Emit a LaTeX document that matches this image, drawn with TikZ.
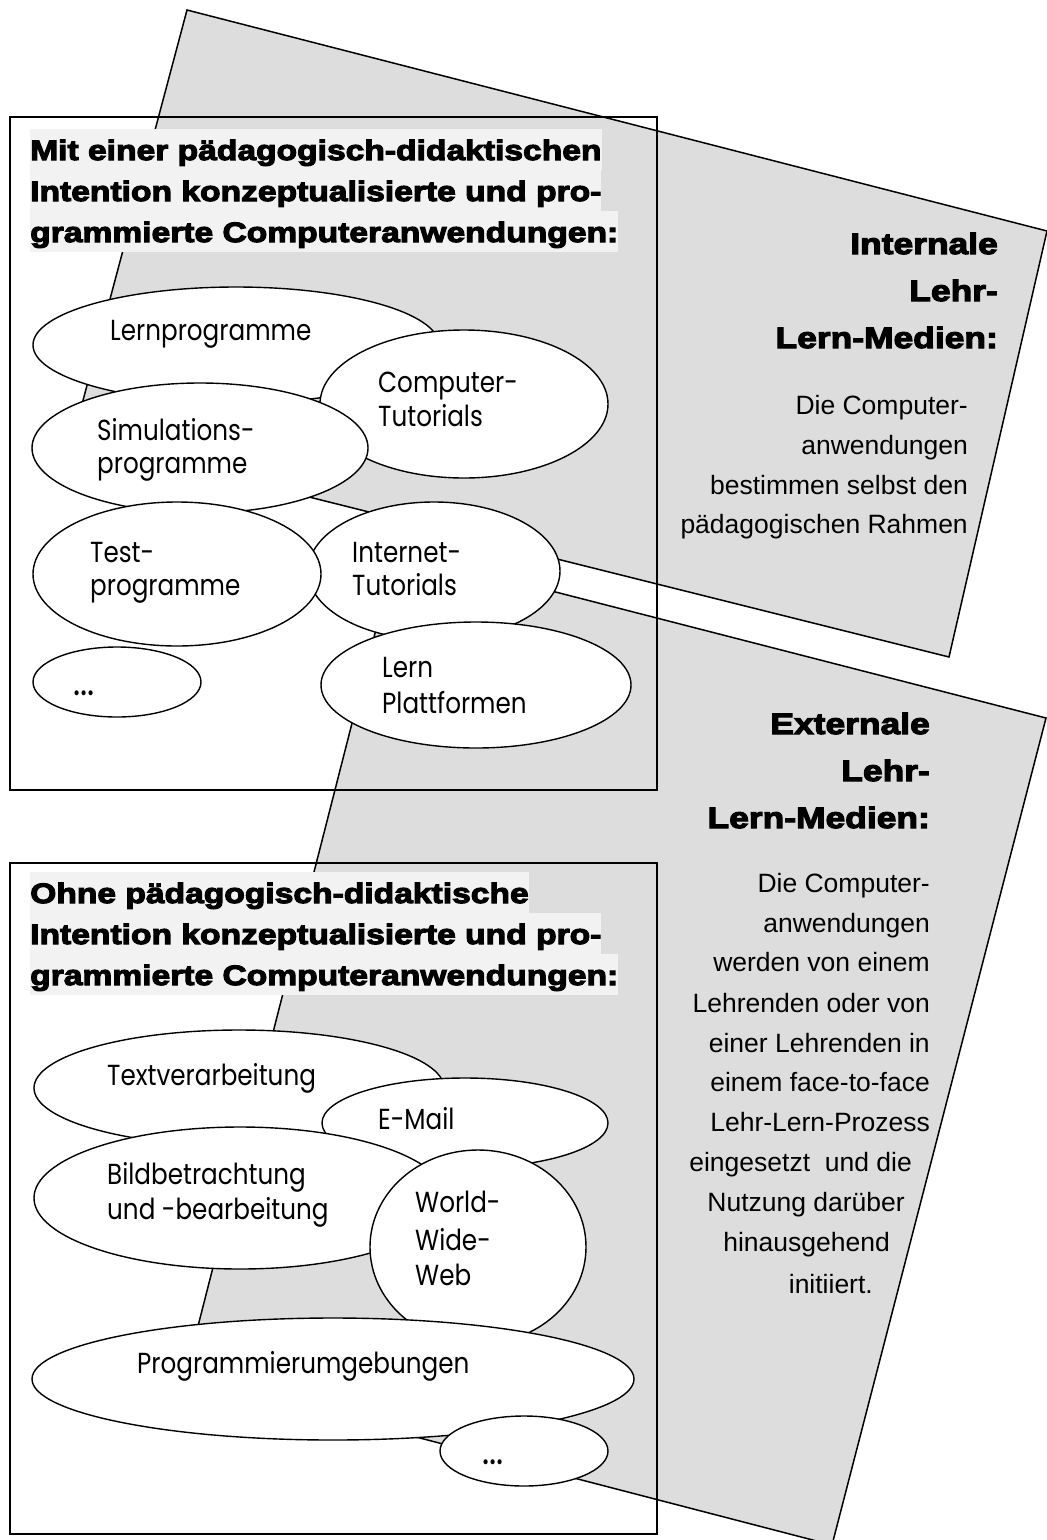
\documentclass[tikz,border=0pt]{standalone}
\usepackage{fontspec}
\usetikzlibrary{shapes.geometric}
\setmainfont{Liberation Sans}
\newfontfamily\heavy[FakeBold=4,FakeStretch=1.2]{Liberation Sans Bold}
\newfontfamily\geo[FakeStretch=0.85]{Poppins}
\definecolor{polygray}{HTML}{DDDDDD}
\definecolor{hl}{HTML}{F2F2F2}
\tikzset{
  poly/.style={fill=polygray, draw=black, line width=1.5},
  frame/.style={draw=black, line width=2},
  ov/.style={ellipse, draw=black, fill=white, line width=1.4, inner sep=0pt},
  gtext/.style={font=\geo\fontsize{29}{34}\selectfont, inner sep=0pt, anchor=base west},
  dots/.style={font=\geo\fontsize{40}{40}\selectfont, inner sep=0pt, anchor=base west},
  ttl/.style={font=\heavy\fontsize{28}{41}\selectfont, fill=hl, inner xsep=0pt, inner ysep=0pt, text height=31, text depth=10, anchor=base west},
  head/.style={font=\heavy\fontsize{29.5}{47}\selectfont, inner sep=0pt, anchor=base east},
  body/.style={font=\fontsize{26.5}{40}\selectfont, inner sep=0pt, anchor=base east},
}
\begin{document}
\begin{tikzpicture}[x=1pt,y=-1pt]
\useasboundingbox (0,0) rectangle (1047,1540);
% grey panels
\coordinate (pa1) at (187,10);
\coordinate (pa2) at (1047,231);
\coordinate (pa3) at (949,657);
\coordinate (pa4) at (73,438);
\coordinate (pb1) at (396,551);
\coordinate (pb2) at (1046,718);
\coordinate (pb3) at (832,1545);
\coordinate (pb4) at (185,1377);
\draw[poly] (pa1) -- (pa2) -- (pa3) -- (pa4) -- cycle;
\draw[poly] (pb1) -- (pb2) -- (pb3) -- (pb4) -- cycle;
% frames
\draw[frame] (10,117) rectangle (657,790);
\draw[frame] (10,863) rectangle (657,1534);
% upper title
\node[ttl] (ut1) at (30,160) {Mit einer pädagogisch-didaktischen};
\node[ttl] (ut2) at (30,201) {Intention konzeptualisierte und pro-};
\node[ttl] (ut3) at (30,242) {grammierte Computeranwendungen:};
% lower title
\node[ttl] (lt1) at (30,903) {Ohne pädagogisch-didaktische};
\node[ttl] (lt2) at (30,944) {Intention konzeptualisierte und pro-};
\node[ttl] (lt3) at (30,985) {grammierte Computeranwendungen:};
% right headings
\node[head] (ih1) at (998,254) {Internale};
\node[head] (ih2) at (998,301) {Lehr-};
\node[head] (ih3) at (998,348) {Lern-Medien:};
\node[body] (ib1) at (968,414) {Die Computer-};
\node[body] (ib2) at (968,454) {anwendungen};
\node[body] (ib3) at (968,494) {bestimmen selbst den};
\node[body] (ib4) at (968,533) {pädagogischen Rahmen};
\node[head] (eh1) at (930,734) {Externale};
\node[head] (eh2) at (930,781) {Lehr-};
\node[head] (eh3) at (930,828) {Lern-Medien:};
\node[body] (eb1) at (930,892) {Die Computer-};
\node[body] (eb2) at (930,932) {anwendungen};
\node[body] (eb3) at (930,971) {werden von einem};
\node[body] (eb4) at (930,1012) {Lehrenden oder von};
\node[body] (eb5) at (930,1052) {einer Lehrenden in};
\node[body] (eb6) at (930,1091) {einem face-to-face};
\node[body] (eb7) at (930,1131) {Lehr-Lern-Prozess};
\node[body] (eb8) at (912,1171) {eingesetzt\ \ und die};
\node[body] (eb9) at (905,1211) {Nutzung darüber};
\node[body] (eb10) at (890,1251) {hinausgehend};
\node[body] (eb11) at (873,1293) {initiiert.};
% upper ellipses
\node[ov, minimum width=406, minimum height=116] (e1) at (236,345) {};
\node[gtext] (e1a) at (110,340) {Lernprogramme};
\node[ov, minimum width=288, minimum height=148] (e2) at (464,404) {};
\node[gtext] (e2a) at (378,392) {Computer-};
\node[gtext] (e2b) at (378,426) {Tutorials};
\node[ov, minimum width=336, minimum height=130] (e3) at (200,448) {};
\node[gtext] (e3a) at (97,440) {Simulations-};
\node[gtext] (e3b) at (97,473) {programme};
\node[ov, minimum width=252, minimum height=138] (e5) at (434,571) {};
\node[gtext] (e5a) at (352,562) {Internet-};
\node[gtext] (e5b) at (352,595) {Tutorials};
\node[ov, minimum width=288, minimum height=144] (e4) at (177,574) {};
\node[gtext] (e4a) at (90,562) {Test-};
\node[gtext] (e4b) at (90,595) {programme};
\node[ov, minimum width=168, minimum height=70] (e6) at (117,682) {};
\node[dots] (e6a) at (73,695) {...};
\node[ov, minimum width=310, minimum height=126] (e7) at (476,685) {};
\node[gtext] (e7a) at (382,677) {Lern};
\node[gtext] (e7b) at (382,713) {Plattformen};
% lower ellipses
\node[ov, minimum width=410, minimum height=116] (f1) at (239,1088) {};
\node[gtext] (f1a) at (107,1085) {Textverarbeitung};
\node[ov, minimum width=286, minimum height=90] (f2) at (465,1123) {};
\node[gtext] (f2a) at (378,1129) {E-Mail};
\node[ov, minimum width=412, minimum height=142] (f3) at (240,1198) {};
\node[gtext] (f3a) at (107,1184) {Bildbetrachtung};
\node[gtext] (f3b) at (107,1219) {und -bearbeitung};
\node[ov, minimum width=216, minimum height=194] (f4) at (478,1247) {};
\node[gtext] (f4a) at (415,1212) {World-};
\node[gtext] (f4b) at (415,1250) {Wide-};
\node[gtext] (f4c) at (415,1285) {Web};
\node[ov, minimum width=602, minimum height=122] (f5) at (333,1379) {};
\node[gtext] (f5a) at (137,1373) {Programmierumgebungen};
\node[ov, minimum width=168, minimum height=70] (f6) at (524,1451) {};
\node[dots] (f6a) at (482,1464) {...};
\end{tikzpicture}
\end{document}
